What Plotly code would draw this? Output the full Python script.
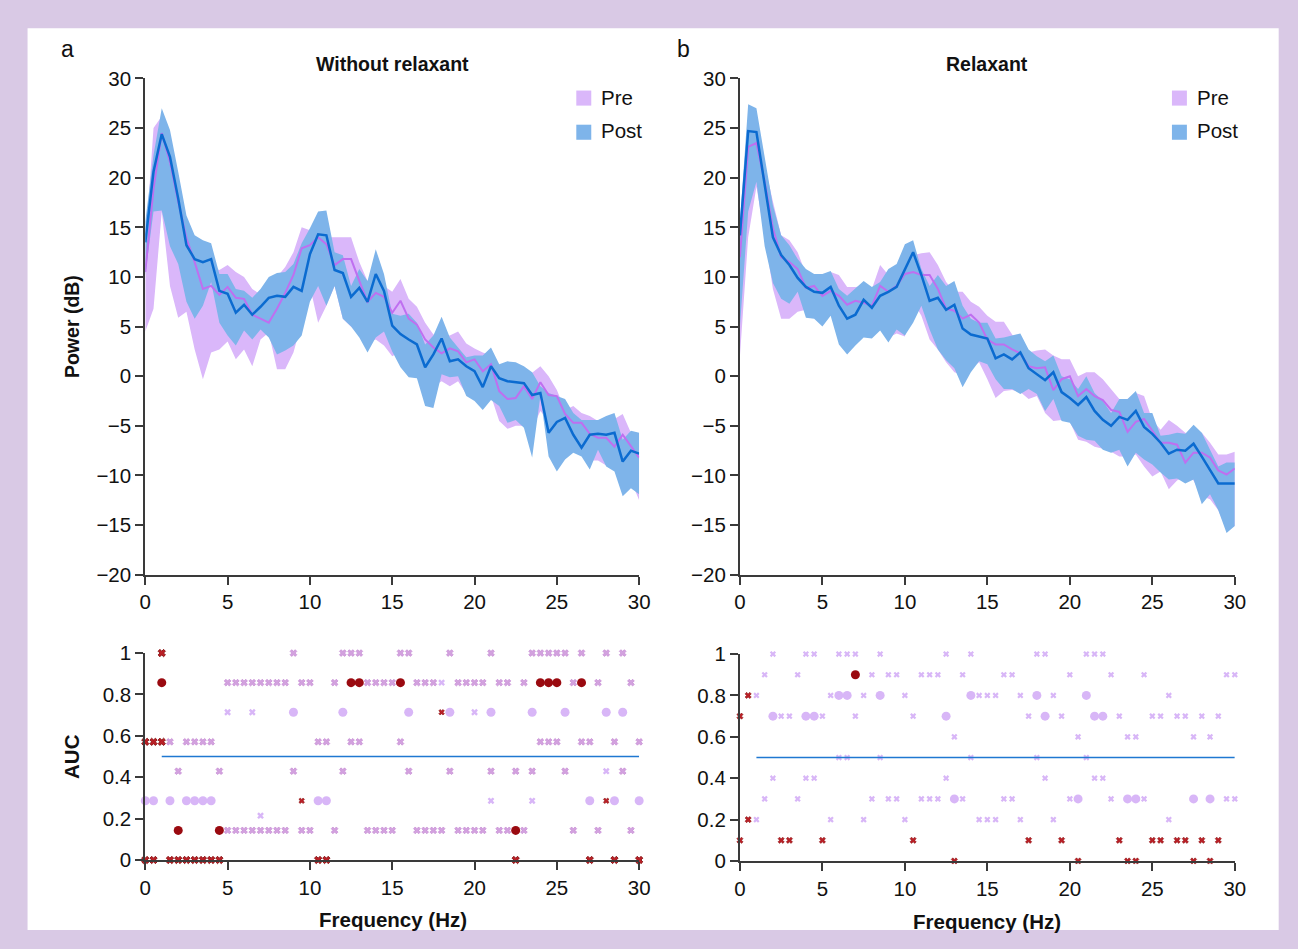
import plotly.graph_objects as go

# The figure sits inside the page's 8px body margin; positions below are given in the
# reference picture's pixels and mapped through the capture geometry measured earlier.
OFF = 8
W, H = 1282, 933
SX, AX = 0.989, 5.5
SY, AY = 0.971, 14.0

# ---------------- data ----------------
freq = [0.0, 0.5, 1.0, 1.5, 2.0, 2.5, 3.0, 3.5, 4.0, 4.5, 5.0, 5.5, 6.0, 6.5, 7.0, 7.5,
        8.0, 8.5, 9.0, 9.5, 10.0, 10.5, 11.0, 11.5, 12.0, 12.5, 13.0, 13.5, 14.0, 14.5,
        15.0, 15.5, 16.0, 16.5, 17.0, 17.5, 18.0, 18.5, 19.0, 19.5, 20.0, 20.5, 21.0,
        21.5, 22.0, 22.5, 23.0, 23.5, 24.0, 24.5, 25.0, 25.5, 26.0, 26.5, 27.0, 27.5,
        28.0, 28.5, 29.0, 29.5, 30.0]

# Panel a (without relaxant)
a_post_mean = [13.5, 20.6, 24.4, 22.1, 17.9, 13.2, 11.8, 11.5, 11.8, 8.6, 8.3, 6.4, 7.2, 6.2, 7.0, 7.9,
               8.1, 8.0, 9.0, 8.6, 12.3, 14.3, 14.2, 10.7, 10.4, 8.0, 8.9, 7.5, 10.3, 8.6,
               5.1, 4.25, 3.7, 3.2, 0.9, 2.2, 3.8, 1.5, 1.7, 1.0, 0.5, -1.1, 1.0, -0.2, -0.5,
               -0.6, -0.7, -1.9, -1.7, -5.7, -4.6, -4.2, -5.9, -7.2, -5.9, -5.8, -5.9, -5.7,
               -8.6, -7.5, -7.8]
a_post_upper = [15.6, 22.3, 27.0, 24.8, 20.6, 16.2, 14.2, 13.7, 13.4, 10.3, 10.3, 8.8, 8.6, 7.9, 8.8, 10.0,
                10.4, 10.5, 11.3, 13.4, 14.9, 16.6, 16.7, 12.5, 12.2, 9.1, 10.8, 9.6, 12.8, 10.3,
                6.3, 6.1, 6.3, 5.4, 3.2, 4.1, 6.0, 3.9, 2.9, 1.9, 2.1, 2.1, 2.9, 1.2, 1.5,
                1.4, 1.0, 0.4, -1.0, -1.7, -2.0, -2.3, -3.7, -4.4, -4.4, -4.4, -4.0, -3.7,
                -6.4, -5.5, -5.7]
a_post_lower = [10.2, 16.6, 16.7, 13.1, 11.3, 7.5, 5.8, 7.1, 9.5, 5.4, 4.1, 3.1, 4.6, 3.7, 4.7, 3.9,
                2.2, 2.6, 3.1, 4.1, 7.5, 9.1, 7.1, 9.1, 5.8, 5.0, 3.9, 2.4, 3.9, 4.5,
                2.5, 0.9, -0.1, -0.2, -3.0, -3.2, 0.2, -0.1, 0.0, -2.0, -2.5, -3.4, -2.4, -3.0, -4.7,
                -4.4, -5.2, -8.2, -2.0, -8.1, -9.6, -8.4, -7.7, -8.1, -9.4, -7.4, -9.1, -9.6,
                -12.1, -11.3, -11.9]
a_pre_mean = [10.5, 18.9, 24.5, 21.6, 17.6, 13.9, 11.5, 8.8, 9.1, 8.2, 9.0, 7.9, 7.8, 6.2, 5.8, 5.4,
              6.8, 8.4, 10.2, 12.9, 13.2, 14.0, 13.3, 11.2, 11.8, 11.8, 9.6, 7.5, 8.4, 8.0,
              6.4, 7.6, 5.8, 5.2, 3.7, 2.9, 2.3, 2.8, 2.5, 1.4, 1.7, 0.5, 1.2, -1.5, -2.3,
              -2.2, -1.0, -2.3, -0.6, -1.9, -2.0, -3.8, -4.7, -4.7, -5.8, -6.2, -6.2, -7.1,
              -5.9, -7.1, -8.2]
a_pre_upper = [13.0, 25.0, 26.2, 23.6, 18.9, 15.2, 13.0, 11.5, 11.0, 10.7, 11.2, 10.5, 10.0, 8.8, 8.2, 9.5,
               10.0, 11.0, 12.5, 15.0, 14.7, 14.2, 14.0, 14.0, 14.0, 14.0, 11.5, 9.6, 10.8, 9.1,
               8.5, 9.8, 7.8, 7.0, 5.4, 4.2, 4.1, 4.1, 4.5, 3.3, 2.8, 2.4, 2.1, 1.0, 1.0,
               0.7, -0.3, 0.4, 1.0, 0.0, -1.4, -3.4, -3.0, -3.7, -4.0, -4.5, -4.3, -4.3,
               -3.8, -5.7, -6.4]
a_pre_lower = [4.5, 6.8, 16.6, 9.1, 5.9, 6.5, 2.7, -0.3, 2.4, 2.7, 3.5, 1.7, 2.7, 1.0, 3.7, 4.4,
               0.7, 0.7, 2.4, 5.4, 9.1, 5.4, 7.1, 9.1, 5.8, 5.0, 4.2, 3.4, 3.7, 3.1,
               2.0, 2.5, 1.0, 0.0, -1.5, -1.0, -0.5, -1.0, -0.5, -1.8, -2.2, -2.5, -2.0, -4.5, -5.3,
               -5.0, -5.0, -5.3, -3.5, -4.5, -5.5, -6.5, -7.0, -7.5, -8.5, -8.5, -9.0, -9.5,
               -10.5, -10.5, -12.5]

# Panel b (relaxant)
b_post_mean = [14.2, 24.7, 24.6, 19.3, 14.0, 12.2, 11.2, 9.9, 9.0, 8.5, 8.4, 9.0, 7.1, 5.8, 6.2, 7.7,
               6.9, 8.1, 8.5, 9.0, 10.7, 12.5, 10.2, 7.6, 7.9, 6.7, 7.2, 4.8, 4.2, 4.0,
               3.8, 1.8, 2.2, 1.7, 2.4, 0.8, 0.2, -0.4, 0.4, -1.6, -2.2, -2.9, -2.1, -3.5, -4.4,
               -5.0, -4.1, -4.4, -3.5, -5.1, -5.8, -6.7, -7.8, -7.4, -7.5, -6.8, -8.1, -9.4,
               -10.8, -10.8, -10.8]
b_post_upper = [15.6, 27.4, 27.0, 22.3, 17.2, 14.2, 13.2, 11.8, 10.8, 10.3, 10.3, 10.6, 8.8, 8.1, 8.9, 9.6,
                9.0, 9.5, 10.8, 11.3, 13.3, 13.7, 10.8, 9.1, 10.2, 9.1, 9.6, 7.1, 5.8, 5.4,
                5.4, 3.8, 3.9, 4.1, 4.3, 2.7, 2.0, 1.5, 2.1, 0.0, -0.3, -1.3, 0.0, -1.7, -2.5,
                -3.7, -2.3, -2.3, -1.5, -3.7, -3.7, -6.0, -5.9, -5.7, -5.8, -4.9, -5.7, -7.4,
                -9.1, -8.7, -8.7]
b_post_lower = [5.0, 16.6, 19.6, 13.1, 9.4, 7.8, 7.3, 8.5, 5.9, 5.8, 5.0, 6.1, 3.2, 2.2, 3.1, 3.9,
                3.8, 4.6, 3.4, 4.7, 4.1, 5.4, 7.1, 4.7, 2.7, 1.6, 0.8, -1.1, 0.4, 1.5,
                1.2, -0.3, -1.3, -1.3, -1.8, -1.3, -1.8, -3.5, -2.3, -4.5, -4.7, -6.0, -6.4, -6.5, -7.4,
                -7.7, -7.4, -9.1, -7.7, -8.4, -8.9, -9.7, -10.4, -10.3, -10.8, -10.4, -12.9, -11.9,
                -13.5, -15.8, -15.1]
b_pre_mean = [12.0, 23.1, 23.5, 19.6, 14.9, 12.0, 11.5, 10.8, 8.9, 9.1, 8.1, 8.6, 8.1, 7.2, 7.6, 7.4,
              7.1, 9.1, 8.5, 9.1, 10.3, 10.5, 10.2, 10.2, 8.8, 6.8, 6.6, 5.8, 6.2, 5.4,
              3.7, 3.2, 3.2, 2.7, 2.3, 1.0, 0.8, 0.9, -1.4, -0.3, 0.0, -2.0, -1.3, -2.0, -2.4,
              -3.4, -3.6, -5.6, -4.6, -4.3, -5.5, -6.7, -6.7, -6.9, -8.7, -7.7, -7.7, -8.2,
              -9.5, -9.9, -9.3]
b_pre_upper = [13.0, 24.5, 24.0, 21.3, 17.6, 14.2, 13.7, 12.5, 10.3, 10.3, 9.8, 10.5, 10.2, 9.0, 9.0, 9.1,
               8.8, 11.2, 10.2, 10.8, 12.2, 12.2, 12.4, 12.5, 11.2, 9.5, 8.5, 8.5, 7.5, 7.0,
               6.1, 5.5, 5.5, 4.2, 3.1, 2.4, 2.6, 2.7, 2.1, 1.7, 1.7, 0.0, 0.4, 0.4, -0.3,
               -1.3, -2.3, -2.3, -1.7, -2.0, -4.4, -5.4, -4.4, -5.0, -5.7, -6.0, -5.7, -6.7,
               -7.9, -7.9, -7.6]
b_pre_lower = [2.0, 14.0, 19.1, 14.2, 8.8, 5.8, 5.8, 6.5, 6.7, 6.1, 5.5, 6.8, 4.7, 4.1, 4.7, 4.7,
               5.4, 5.4, 3.9, 4.3, 4.0, 7.5, 6.1, 3.7, 2.7, 1.4, 0.4, 0.1, 0.8, 1.4,
               -0.3, -2.2, -1.5, -1.4, -1.6, -2.3, -2.0, -3.7, -4.5, -4.4, -4.6, -6.4, -6.6, -7.1, -7.3,
               -7.6, -8.1, -8.1, -7.9, -9.1, -10.1, -9.6, -11.4, -10.5, -10.0, -10.5, -12.1, -12.4,
               -13.5, -15.5, -15.1]

# AUC markers: {AUC level: [frequencies (Hz)]}
a_dark_x = {1.0: [1.0], 0.571: [0.0, 0.5, 1.0],
            0.0: [0.0, 0.5, 1.5, 2.0, 2.5, 3.0, 3.5, 4.0, 4.5, 10.5, 11.0, 22.5, 27.0, 28.5, 30.0]}
a_dark_x_small = {0.286: [9.5, 28.0], 0.714: [18.0]}
a_dark_dot = {0.857: [1.0, 12.5, 13.0, 15.5, 24.0, 24.5, 25.0, 26.5], 0.143: [2.0, 4.5, 22.5]}
a_mid_x = {
    1.0: [9.0, 12.0, 12.5, 13.0, 15.5, 16.0, 18.5, 21.0, 23.5, 24.0, 24.5, 25.0, 25.5, 26.5, 28.0, 29.0],
    0.857: [5.0, 5.5, 6.0, 6.5, 7.0, 7.5, 8.0, 8.5, 9.5, 10.0, 11.5, 13.5, 14.0, 14.5, 15.0, 16.5,
            17.0, 17.5, 19.0, 19.5, 20.0, 20.5, 21.5, 22.0, 23.0, 26.0, 27.5, 29.5],
    0.571: [1.5, 2.5, 3.0, 3.5, 4.0, 10.5, 11.0, 12.5, 13.0, 15.5, 24.0, 24.5, 25.0, 26.5, 27.0, 28.5, 30.0],
    0.429: [2.0, 4.5, 9.0, 12.0, 16.0, 18.5, 21.0, 22.5, 23.5, 25.5, 29.0],
    0.143: [5.0, 5.5, 6.0, 6.5, 7.0, 7.5, 8.0, 8.5, 9.5, 10.0, 11.5, 13.5, 14.0, 14.5, 15.0, 16.5,
            17.0, 17.5, 18.0, 19.0, 19.5, 20.0, 20.5, 21.5, 22.0, 23.0, 26.0, 27.5, 29.5]}
a_light_x = {0.714: [5.0, 6.5, 20.0], 0.857: [18.0], 0.429: [28.0], 0.286: [21.0, 23.5], 0.214: [7.0]}
a_light_dot = {0.714: [9.0, 12.0, 16.0, 18.5, 21.0, 23.5, 25.5, 28.0, 29.0],
               0.286: [0.0, 0.5, 1.5, 2.5, 3.0, 3.5, 4.0, 10.5, 11.0, 27.0, 28.5, 30.0]}

b_dark_x = {0.8: [0.5], 0.7: [0.0], 0.2: [0.5],
            0.1: [0.0, 2.5, 3.0, 5.0, 10.5, 17.5, 19.5, 23.0, 25.0, 25.5, 26.5, 27.0, 28.0, 29.0],
            0.0: [13.0, 20.5, 23.5, 24.0, 27.5, 28.5]}
b_dark_dot = {0.9: [7.0]}
b_light_x = {
    1.0: [2.0, 4.0, 4.5, 6.0, 6.5, 7.0, 8.5, 12.5, 14.0, 18.0, 18.5, 21.0, 21.5, 22.0],
    0.9: [1.5, 3.5, 8.0, 9.0, 9.5, 11.0, 11.5, 12.0, 13.5, 16.0, 16.5, 20.0, 22.5, 24.5, 29.5, 30.0],
    0.8: [1.0, 5.5, 7.5, 10.0, 14.5, 15.0, 15.5, 17.0, 19.0, 26.0],
    0.7: [2.5, 3.0, 5.0, 7.0, 10.5, 17.5, 19.5, 23.0, 25.0, 25.5, 26.5, 27.0, 28.0, 29.0],
    0.6: [13.0, 20.5, 23.5, 24.0, 27.5, 28.5],
    0.5: [6.0, 6.5, 8.5, 14.0, 18.0, 21.0],
    0.4: [2.0, 4.0, 4.5, 12.5, 18.5, 21.5, 22.0],
    0.3: [1.5, 3.5, 8.0, 9.0, 9.5, 11.0, 11.5, 12.0, 13.5, 16.0, 16.5, 20.0, 22.5, 24.5, 29.5, 30.0],
    0.2: [1.0, 5.5, 7.5, 10.0, 14.5, 15.0, 15.5, 17.0, 19.0, 26.0]}
b_light_dot = {0.8: [6.0, 6.5, 8.5, 14.0, 18.0, 21.0],
               0.7: [2.0, 4.0, 4.5, 12.5, 18.5, 21.5, 22.0],
               0.3: [13.0, 20.5, 23.5, 24.0, 27.5, 28.5]}

chance_f = [1.0, 30.0]
chance_auc = [0.5, 0.5]

power_ticks = [-20, -15, -10, -5, 0, 5, 10, 15, 20, 25, 30]
auc_ticks = [0, 0.2, 0.4, 0.6, 0.8, 1]
freq_ticks = [0, 5, 10, 15, 20, 25, 30]

# ---------------- style ----------------
FONT = "Liberation Sans, Arial, Helvetica, sans-serif"
BG = "#d9c9e5"
PRE_BAND = "#dab7fa"
POST_BAND = "#7eb4ea"
PRE_LINE = "#bf6ff0"
POST_LINE = "#0b6bd0"
AXC = "#3a3a3a"
LIGHT = "#d8b6f7"


def px(x):
    p = (x - AX) / SX
    return min(1.0, max(0.0, (p - OFF) / W))


def py(y):
    p = (y - AY) / SY
    return min(1.0, max(0.0, 1 - (p - OFF) / H))


fig = go.Figure()


def flat(rows):
    xs, ys = [], []
    for lvl, fs in rows.items():
        for f in fs:
            xs.append(f)
            ys.append(lvl)
    return xs, ys


def spectrum(xa, ya, pre_m, pre_u, pre_l, post_m, post_u, post_l):
    fig.add_trace(go.Scatter(x=freq + freq[::-1], y=pre_u + pre_l[::-1], fill="toself",
                             fillcolor=PRE_BAND, line=dict(width=0), mode="lines",
                             hoverinfo="skip", showlegend=False, xaxis=xa, yaxis=ya))
    fig.add_trace(go.Scatter(x=freq + freq[::-1], y=post_u + post_l[::-1], fill="toself",
                             fillcolor=POST_BAND, line=dict(width=0), mode="lines",
                             hoverinfo="skip", showlegend=False, xaxis=xa, yaxis=ya))
    fig.add_trace(go.Scatter(x=freq, y=pre_m, mode="lines", line=dict(color=PRE_LINE, width=2),
                             showlegend=False, xaxis=xa, yaxis=ya, name="Pre"))
    fig.add_trace(go.Scatter(x=freq, y=post_m, mode="lines", line=dict(color=POST_LINE, width=2.5),
                             showlegend=False, xaxis=xa, yaxis=ya, name="Post"))


spectrum("x", "y", a_pre_mean, a_pre_upper, a_pre_lower, a_post_mean, a_post_upper, a_post_lower)
spectrum("x2", "y2", b_pre_mean, b_pre_upper, b_pre_lower, b_post_mean, b_post_upper, b_post_lower)


def markers(rows, xa, ya, symbol, size, color, lw=0, lc=None):
    xs, ys = flat(rows)
    fig.add_trace(go.Scatter(x=xs, y=ys, mode="markers", cliponaxis=False,
                             marker=dict(symbol=symbol, size=size, color=color,
                                         line=dict(width=lw, color=lc or color)),
                             showlegend=False, xaxis=xa, yaxis=ya))


# panel a AUC
markers(a_light_x, "x3", "y3", "x", 6, LIGHT)
markers(a_mid_x, "x3", "y3", "x", 6, "#d3a2df", 0.6, "#c080cf")
markers(a_light_dot, "x3", "y3", "circle", 9, LIGHT)
markers(a_dark_x, "x3", "y3", "x", 6.5, "#bb2027", 0.8, "#7a0000")
markers(a_dark_x_small, "x3", "y3", "x", 5, "#bb2027", 0.5, "#7a0000")
markers(a_dark_dot, "x3", "y3", "circle", 9, "#9a0a10")
fig.add_trace(go.Scatter(x=chance_f, y=chance_auc, mode="lines", line=dict(color="#1f78d1", width=1.6),
                         showlegend=False, xaxis="x3", yaxis="y3"))

# panel b AUC
markers(b_light_x, "x4", "y4", "x", 5.5, LIGHT)
fig.add_trace(go.Scatter(x=chance_f, y=chance_auc, mode="lines", line=dict(color="#1f78d1", width=1.6),
                         showlegend=False, xaxis="x4", yaxis="y4"))
markers(b_light_dot, "x4", "y4", "circle", 9, LIGHT)
markers(b_dark_x, "x4", "y4", "x", 5.5, "#bb2027", 0.5, "#7a0000")
markers(b_dark_dot, "x4", "y4", "circle", 9, "#9a0a10")

axis_common = dict(showline=True, linecolor=AXC, linewidth=2, ticks="outside", ticklen=8,
                   tickwidth=1.5, tickcolor=AXC, showgrid=False, zeroline=False,
                   tickfont=dict(family=FONT, size=20.5, color="#111111"), fixedrange=True)

xa_dom = [px(145), px(640)]
xb_dom = [px(741), px(1237)]
top_dom = [py(574), py(80)]
bota_dom = [py(858), py(652)]
botb_dom = [py(859), py(653)]

fig.update_layout(
    width=W, height=H, autosize=False,
    margin=dict(l=0, r=0, t=0, b=0, pad=0),
    paper_bgcolor=BG, plot_bgcolor="rgba(0,0,0,0)",
    font=dict(family=FONT, color="#111111"),
    showlegend=False,
    xaxis=dict(domain=xa_dom, range=[0, 30], tickvals=freq_ticks, anchor="y", **axis_common),
    yaxis=dict(domain=top_dom, range=[-20, 30], tickvals=power_ticks, anchor="x", **axis_common),
    xaxis2=dict(domain=xb_dom, range=[0, 30], tickvals=freq_ticks, anchor="y2", **axis_common),
    yaxis2=dict(domain=top_dom, range=[-20, 30], tickvals=power_ticks, anchor="x2", **axis_common),
    xaxis3=dict(domain=xa_dom, range=[0, 30], tickvals=freq_ticks, anchor="y3", **axis_common),
    yaxis3=dict(domain=bota_dom, range=[0, 1], tickvals=auc_ticks, anchor="x3", **axis_common),
    xaxis4=dict(domain=xb_dom, range=[0, 30], tickvals=freq_ticks, anchor="y4", **axis_common),
    yaxis4=dict(domain=botb_dom, range=[0, 1], tickvals=auc_ticks, anchor="x4", **axis_common),
)

shapes = [dict(type="rect", xref="paper", yref="paper", x0=px(27), x1=px(1281), y0=py(949), y1=py(30),
               fillcolor="white", line=dict(width=0), layer="below")]
# legend swatches
for x0 in (577, 1174):
    shapes.append(dict(type="rect", xref="paper", yref="paper", x0=px(x0), x1=px(x0 + 15),
                       y0=py(107), y1=py(92), fillcolor=PRE_BAND, line=dict(width=0)))
    shapes.append(dict(type="rect", xref="paper", yref="paper", x0=px(x0), x1=px(x0 + 15),
                       y0=py(141), y1=py(126), fillcolor=POST_BAND, line=dict(width=0)))
fig.update_layout(shapes=shapes)


def ann(text, x, y, size, bold=False, angle=0, xanchor="center"):
    t = f"<b>{text}</b>" if bold else text
    fig.add_annotation(text=t, x=px(x), y=py(y), xref="paper", yref="paper", showarrow=False,
                       font=dict(family=FONT, size=size, color="#111111"), textangle=angle,
                       xanchor=xanchor, yanchor="middle")


ann("a", 67, 51, 23)
ann("b", 684, 51, 23)
ann("Without relaxant", 393, 66, 19.5, bold=True)
ann("Relaxant", 989, 66, 19.5, bold=True)
ann("Power (dB)", 71, 327, 19.5, bold=True, angle=-90)
ann("AUC", 71, 755, 20.5, bold=True, angle=-90)
ann("Frequency (Hz)", 393, 917, 20.5, bold=True)
ann("Frequency (Hz)", 989, 919, 20.5, bold=True)
for x0 in (600, 1197):
    ann("Pre", x0, 99, 20.5, xanchor="left")
    ann("Post", x0, 132, 20.5, xanchor="left")

fig.write_html("out.html", config={"displayModeBar": False},
               post_script="document.body.style.background='" + BG + "';")
